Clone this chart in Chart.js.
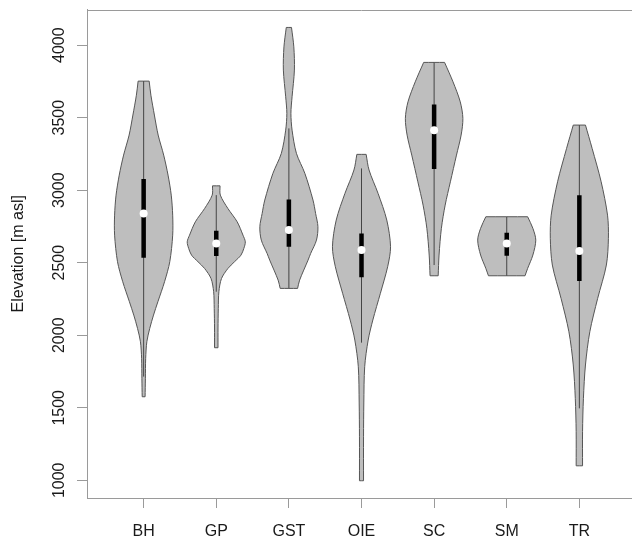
<!DOCTYPE html>
<html lang="en">
<head>
    <meta charset="UTF-8">
    <title>Elevation by group</title>
    <!-- Load Chart.js library -->
    <script src="https://cdn.jsdelivr.net/npm/chart.js"></script>
    <style>
        body {
            margin: 0;
            background-color: #ffffff;
            overflow: hidden;
        }
        .chart-container {
            width: 640px;
            height: 541px;
        }
    </style>
</head>
<body>
    <div class="chart-container">
        <canvas id="violinChart"></canvas>
    </div>

    <script>
        // Categories and y tick labels
        const groups = ["BH", "GP", "GST", "OIE", "SC", "SM", "TR"];
        const elevationTicks = [1000, 1500, 2000, 2500, 3000, 3500, 4000];

        // Violin outlines: elevation (m asl) and relative half-width (1 = widest)
        const bhElev = [1576, 1700, 1841, 1955, 2047, 2139, 2231, 2369, 2507, 2690, 2828, 2966, 3104, 3242, 3380, 3518, 3655, 3752];
        const bhWidth = [0.05, 0.06, 0.07, 0.11, 0.21, 0.34, 0.49, 0.72, 0.9, 1.0, 1.0, 0.95, 0.84, 0.69, 0.5, 0.37, 0.25, 0.19];
        const gpElev = [1914, 2050, 2185, 2300, 2391, 2460, 2507, 2552, 2599, 2644, 2690, 2782, 2874, 2966, 3030];
        const gpWidth = [0.06, 0.06, 0.07, 0.09, 0.18, 0.4, 0.63, 0.85, 0.95, 1.0, 0.92, 0.72, 0.4, 0.14, 0.13];
        const gstElev = [2323, 2380, 2518, 2564, 2656, 2748, 2840, 2932, 3116, 3254, 3414, 3530, 3644, 3828, 3988, 4122];
        const gstWidth = [0.3, 0.37, 0.66, 0.75, 0.95, 1.0, 0.92, 0.83, 0.55, 0.26, 0.11, 0.07, 0.11, 0.19, 0.17, 0.09];
        const oieElev = [997, 1300, 1533, 1783, 1967, 2105, 2289, 2472, 2610, 2794, 2978, 3139, 3247];
        const oieWidth = [0.07, 0.07, 0.08, 0.11, 0.23, 0.39, 0.65, 0.9, 1.0, 0.87, 0.57, 0.26, 0.16];
        const scElev = [2410, 2553, 2737, 2897, 3058, 3242, 3380, 3495, 3609, 3747, 3881];
        const scWidth = [0.14, 0.17, 0.25, 0.38, 0.56, 0.77, 0.93, 0.99, 0.9, 0.65, 0.36];
        const smElev = [2410, 2461, 2553, 2656, 2737, 2817];
        const smWidth = [0.63, 0.72, 0.9, 1.0, 0.9, 0.72];
        const trElev = [1100, 1335, 1565, 1795, 2024, 2254, 2484, 2668, 2828, 3058, 3288, 3449];
        const trWidth = [0.11, 0.11, 0.14, 0.21, 0.36, 0.63, 0.93, 1.0, 0.97, 0.75, 0.44, 0.21];

        // Box summaries per group
        const medians = [2840, 2633, 2725, 2587, 3414, 2633, 2580];
        const lowerQuartile = [2534, 2546, 2610, 2399, 3146, 2548, 2374];
        const upperQuartile = [3077, 2720, 2936, 2702, 3591, 2707, 2966];
        const whiskerLow = [1715, 2300, 2323, 1949, 2484, 2410, 1496];
        const whiskerHigh = [3752, 2966, 3426, 3150, 3881, 2817, 3449];

        const violinElev = [bhElev, gpElev, gstElev, oieElev, scElev, smElev, trElev];
        const violinWidth = [bhWidth, gpWidth, gstWidth, oieWidth, scWidth, smWidth, trWidth];
        const halfWidth = 0.4; // widest half-width in x units

        const axisGrey = "#9a9a9a";
        const labelFont = { family: "'Liberation Sans', Arial, sans-serif", size: 16 };

        // Closed outline of one violin: up the left side, down the right side
        function violinOutline(i) {
            const at = i + 1;
            const w = violinWidth[i];
            const left = violinElev[i].map((e, k) => ({ x: at - w[k] * halfWidth, y: e }));
            const right = violinElev[i].map((e, k) => ({ x: at + w[k] * halfWidth, y: e })).reverse();
            const last = left.length - 1;
            // end points repeated so the flat ends keep square corners
            return [left[0], ...left, left[last], right[0], ...right, right[last], left[0]];
        }

        const violinSets = groups.map((g, i) => ({
            label: g,
            data: violinOutline(i),
            fill: "shape",
            backgroundColor: "#bebebe",
            borderColor: "#555555",
            borderWidth: 1,
            tension: 0.3,
            pointRadius: 0,
            order: 4
        }));

        const whiskerSets = groups.map((g, i) => ({
            label: g + " whiskers",
            data: [{ x: i + 1, y: whiskerLow[i] }, { x: i + 1, y: whiskerHigh[i] }],
            borderColor: "#444444",
            borderWidth: 1,
            pointRadius: 0,
            order: 3
        }));

        const boxSets = groups.map((g, i) => ({
            label: g + " box",
            data: [{ x: i + 1, y: lowerQuartile[i] }, { x: i + 1, y: upperQuartile[i] }],
            borderColor: "#000000",
            borderWidth: 4.5,
            borderCapStyle: "butt",
            pointRadius: 0,
            order: 2
        }));

        const medianSet = {
            label: "median",
            data: groups.map((g, i) => ({ x: i + 1, y: medians[i] })),
            showLine: false,
            pointRadius: 4,
            pointBackgroundColor: "#ffffff",
            pointBorderWidth: 0,
            order: 1
        };

        // Box line along the top of the plot region
        const framePlugin = {
            id: "frame",
            afterDraw(chart) {
                const { ctx, chartArea } = chart;
                ctx.save();
                ctx.strokeStyle = axisGrey;
                ctx.lineWidth = 1;
                ctx.beginPath();
                ctx.moveTo(chartArea.left, Math.round(chartArea.top) + 0.5);
                ctx.lineTo(chartArea.right, Math.round(chartArea.top) + 0.5);
                ctx.stroke();
                ctx.restore();
            }
        };

        new Chart(document.getElementById("violinChart"), {
            type: "line",
            data: { datasets: [...violinSets, ...whiskerSets, ...boxSets, medianSet] },
            plugins: [framePlugin],
            options: {
                responsive: true,
                maintainAspectRatio: false,
                animation: false,
                events: [],
                layout: { padding: { top: 9.5, right: 4, left: 0, bottom: 0 } },
                plugins: {
                    legend: { display: false },
                    tooltip: { enabled: false }
                },
                scales: {
                    x: {
                        type: "linear",
                        min: 0.22,
                        max: 7.78,
                        afterBuildTicks: (scale) => { scale.ticks = groups.map((g, i) => ({ value: i + 1 })); },
                        afterFit: (scale) => { scale.height = 43; },
                        grid: { drawOnChartArea: false, drawTicks: true, tickLength: 10, color: axisGrey },
                        border: { color: axisGrey },
                        ticks: {
                            callback: (value, index) => groups[index],
                            autoSkip: false,
                            maxRotation: 0,
                            padding: 14,
                            color: "#1a1a1a",
                            font: labelFont
                        }
                    },
                    y: {
                        type: "linear",
                        min: 878,
                        max: 4245,
                        afterBuildTicks: (scale) => { scale.ticks = elevationTicks.map(v => ({ value: v })); },
                        afterFit: (scale) => { scale.width = 87; },
                        grid: { drawOnChartArea: false, drawTicks: true, tickLength: 10, color: axisGrey },
                        border: { color: axisGrey },
                        ticks: {
                            callback: (value) => String(value),
                            autoSkip: false,
                            minRotation: 90,
                            maxRotation: 90,
                            crossAlign: "center",
                            padding: 0,
                            color: "#1a1a1a",
                            font: labelFont
                        },
                        title: {
                            display: true,
                            text: "Elevation [m asl]",
                            color: "#1a1a1a",
                            font: labelFont,
                            padding: { top: 9, bottom: 0 }
                        }
                    }
                }
            }
        });
    </script>
</body>
</html>
